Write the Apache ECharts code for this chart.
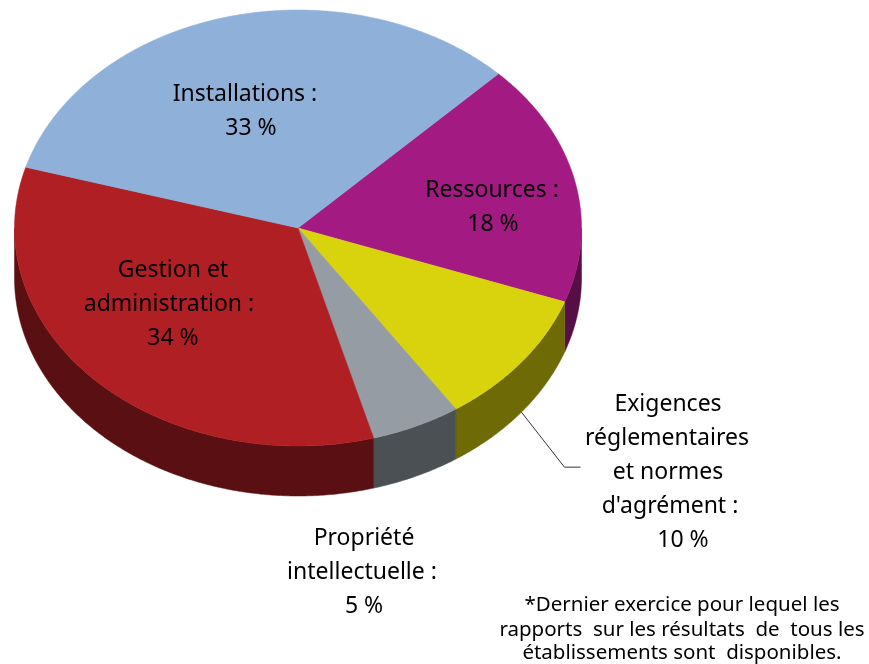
<!DOCTYPE html>
<html><head><meta charset="utf-8">
<style>html,body{margin:0;padding:0;background:#fff}#c{width:869px;height:664px}</style>
<script src="https://cdn.jsdelivr.net/npm/echarts@6/dist/echarts.min.js"></script>
</head><body><div id="c"></div>
<script>
const categories = ['Ressources', 'Exigences réglementaires et normes d\'agrément', 'Propriété intellectuelle', 'Gestion et administration', 'Installations'];
const shares = [18, 10.1, 5.1, 33.8, 33];
const topColors = ['#A31A82', '#D8D30D', '#959CA3', '#B01F23', '#8FB0D8'];
const sideColors = ['#560E45', '#6E6A05', '#4B5054', '#5A0F12', '#4F6378'];
const startAngle = 45;
const geom = { cx: 298, cy: 228, rx: 283.5, ry: 218, depth: 50 };
const labelLines = [
  [['Ressources :', 492, 189], ['18 %', 493, 223]],
  [['Exigences', 668, 403], ['réglementaires', 667, 437], ['et normes', 668, 471], ["d'agrément :", 670, 505], ['10 %', 683, 539]],
  [['Propriété', 364, 537], ['intellectuelle :', 362, 571], ['5 %', 364, 605]],
  [['Gestion et', 173, 269], ['administration :', 169, 303], ['34 %', 173, 337]],
  [['Installations :', 245, 93], ['33 %', 251, 127]]
];
const footnote = [
  ['*Dernier exercice pour lequel les', 682, 604],
  ['rapports  sur les résultats  de  tous les', 682, 629],
  ['établissements sont  disponibles.', 682, 652]
];
const FONT = '"Noto Sans", sans-serif';

const total = shares.reduce((a, b) => a + b, 0);
function pt(deg, dy) {
  const r = deg * Math.PI / 180;
  return [geom.cx + geom.rx * Math.sin(r), geom.cy - geom.ry * Math.cos(r) + (dy || 0)];
}
function renderItem(params, api) {
  const i = params.dataIndex;
  let before = 0;
  for (let k = 0; k < i; k++) before += shares[k];
  const a0 = startAngle + before / total * 360;
  const a1 = a0 + api.value(0) / total * 360;
  const top = [[geom.cx, geom.cy]];
  for (let a = a0; a < a1; a += 0.5) top.push(pt(a));
  top.push(pt(a1));
  const children = [];
  const s0 = Math.max(a0, 90), s1 = Math.min(a1, 270);
  if (s1 > s0) {
    const upper = [], lower = [];
    for (let a = s0; a < s1; a += 0.5) { upper.push(pt(a)); lower.push(pt(a, geom.depth)); }
    upper.push(pt(s1)); lower.push(pt(s1, geom.depth));
    children.push({ type: 'polygon', z2: 1, shape: { points: upper.concat(lower.reverse()) },
      style: { fill: sideColors[i], stroke: sideColors[i], lineWidth: 0.5 } });
  }
  children.push({ type: 'polygon', z2: 2, shape: { points: top },
    style: { fill: topColors[i], stroke: topColors[i], lineWidth: 0.5 } });
  if (i === 1) {
    const p = pt((a0 + a1) / 2, geom.depth);
    children.push({ type: 'polyline', z2: 3, shape: { points: [p, [p[0] + 43, p[1] + 55], [p[0] + 59, p[1] + 55]] },
      style: { stroke: '#333', lineWidth: 1, fill: 'none' } });
  }
  return { type: 'group', children };
}
const texts = [];
labelLines.flat().forEach(l => texts.push({ type: 'text', x: l[1], y: l[2] + 1.5, z: 10,
  style: { text: l[0], fill: '#000', font: '23px ' + FONT, align: 'center', verticalAlign: 'middle' } }));
footnote.forEach(l => texts.push({ type: 'text', x: l[1], y: l[2] + 1, z: 10,
  style: { text: l[0], fill: '#000', font: '20.5px ' + FONT, align: 'center', verticalAlign: 'middle' } }));

const chart = echarts.init(document.getElementById('c'), null, { renderer: 'canvas' });
chart.setOption({
  animation: false,
  backgroundColor: '#fff',
  graphic: texts,
  series: [{ type: 'custom', coordinateSystem: 'none', renderItem, data: shares.map((v, i) => ({ name: categories[i], value: [v] })), silent: true }]
});
</script></body></html>
